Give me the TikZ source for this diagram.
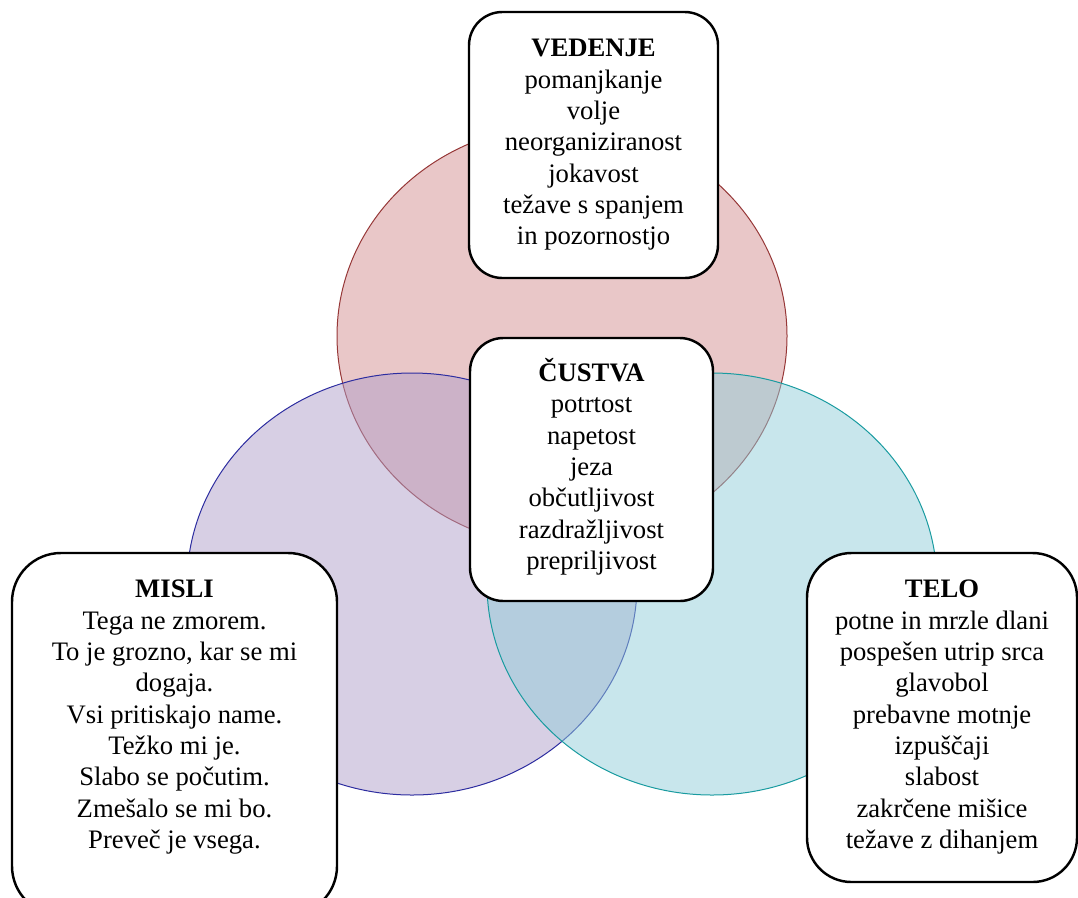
\documentclass[tikz,border=0pt]{standalone}
\usepackage{fontspec}
\setmainfont{Liberation Serif}
\usetikzlibrary{positioning}

\definecolor{vedfill}{RGB}{211,143,145}
\definecolor{vedline}{RGB}{150,55,55}
\definecolor{misfill}{RGB}{175,159,201}
\definecolor{misline}{RGB}{45,45,160}
\definecolor{telfill}{RGB}{145,205,217}
\definecolor{telline}{RGB}{25,155,160}

\begin{document}
\begin{tikzpicture}[x=0.45pt, y=-0.45pt, font=\fontsize{12}{14.1}\selectfont,
  ring/.style={fill opacity=0.5, line width=0.45pt, x radius=101.25pt, y radius=94.95pt},
  card/.style={draw, line width=1.1pt, fill=white, inner sep=0pt},
  txt/.style={align=center, anchor=north, inner sep=0pt}]
\useasboundingbox (0,0) rectangle (1078,897);
% rings
\draw[ring, fill=vedfill, draw=vedline] (562,336) ellipse [];
\draw[ring, fill=misfill, draw=misline] (412,584) ellipse [];
\draw[ring, fill=telfill, draw=telline] (712,584) ellipse [];
% cards
\node[card, rounded corners=15pt, minimum width=112.05pt, minimum height=119.7pt] (vedenje) at (593.5,145) {};
\node[card, rounded corners=15pt, minimum width=109.35pt, minimum height=118.35pt] (custva) at (591.5,469.5) {};
\node[card, rounded corners=22pt, minimum width=146.25pt, minimum height=162.9pt] (misli) at (174.5,734) {};
\node[card, rounded corners=20pt, minimum width=121.5pt, minimum height=148.05pt] (telo) at (942,717.5) {};
\node[txt] (vedenjetxt) at ([yshift=-12.6pt]vedenje.north) {\textbf{VEDENJE}\\pomanjkanje\\volje\\neorganiziranost\\jokavost\\težave s spanjem\\in pozornostjo};
\node[txt] (custvatxt) at ([yshift=-9.45pt]custva.north) {\textbf{ČUSTVA}\\potrtost\\napetost\\jeza\\občutljivost\\razdražljivost\\prepriljivost};
\node[txt] (mislitxt) at ([yshift=-12.6pt]misli.north) {\textbf{MISLI}\\Tega ne zmorem.\\To je grozno, kar se mi\\dogaja.\\Vsi pritiskajo name.\\Težko mi je.\\Slabo se počutim.\\Zmešalo se mi bo.\\Preveč je vsega.};
\node[txt] (telotxt) at ([yshift=-12.6pt]telo.north) {\textbf{TELO}\\potne in mrzle dlani\\pospešen utrip srca\\glavobol\\prebavne motnje\\izpuščaji\\slabost\\zakrčene mišice\\težave z dihanjem};
\end{tikzpicture}
\end{document}
